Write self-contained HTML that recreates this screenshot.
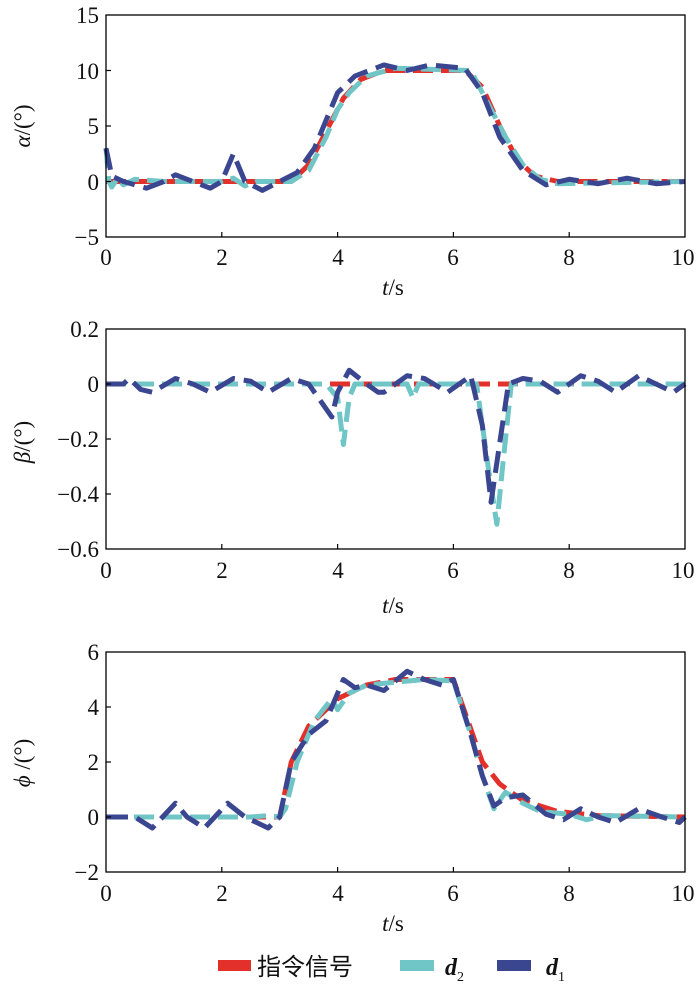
<!DOCTYPE html>
<html><head><meta charset="utf-8"><style>
html,body{margin:0;padding:0;background:#fff;}
svg{display:block;font-family:"Liberation Serif","Noto Serif CJK SC",serif;}
</style></head><body>
<svg width="700" height="991" viewBox="0 0 700 991" xmlns="http://www.w3.org/2000/svg">
<defs>
<style>
.ax{fill:none;stroke:#000;stroke-width:1.3}
.tk{stroke:#000;stroke-width:1.2}
.lb{font-size:23px;fill:#111}
.r{fill:none;stroke:#e3302b;stroke-width:5;stroke-dasharray:20 8;vector-effect:non-scaling-stroke;stroke-linejoin:round}
.c{fill:none;stroke:#70c6c6;stroke-width:5;stroke-dasharray:20 8;vector-effect:non-scaling-stroke;stroke-linejoin:round}
.n{fill:none;stroke:#3b4690;stroke-width:5;stroke-dasharray:22 9;vector-effect:non-scaling-stroke;stroke-linejoin:round}
</style>
</defs>

<!-- ===== Plot 1 ===== -->
<g transform="translate(106,181.5) scale(57.9,-11.1)">
<polyline class="r" points="0,0 3.2,0 3.5,1.5 3.8,4.5 4.1,7.5 4.4,9.2 4.8,10 6.2,10 6.5,8.5 6.8,5 7.1,2 7.4,0.5 7.8,0 10,0"/>
<polyline class="c" points="0,3 0.05,0 0.1,-0.5 0.2,0.3 0.3,-0.3 0.5,0.2 1,0 2,0 2.2,0.3 2.4,-0.4 2.6,0 3.2,0 3.5,1 3.8,4 4,6.5 4.2,8 4.5,9.5 5,10.2 6.3,10 6.6,7 6.9,4 7.2,1.5 7.5,0.2 7.8,-0.2 10,0"/>
<polyline class="n" points="0,3 0.1,0.5 0.3,0 0.7,-0.6 1,0 1.2,0.6 1.5,0 1.8,-0.6 2,0 2.2,2.5 2.4,0 2.7,-0.8 3,0 3.3,0.8 3.6,3 4,8 4.3,9.5 4.8,10.5 5.2,10 5.6,10.5 6.2,10.2 6.5,8 6.8,4 7.2,1 7.6,-0.3 8,0.2 8.5,-0.2 9,0.3 9.5,-0.2 10,0"/>
</g>
<rect class="ax" x="106" y="15" width="579" height="222"/>
<g class="tk">
<line x1="221.8" y1="237" x2="221.8" y2="232"/><line x1="337.6" y1="237" x2="337.6" y2="232"/><line x1="453.4" y1="237" x2="453.4" y2="232"/><line x1="569.2" y1="237" x2="569.2" y2="232"/>
<line x1="106" y1="70.5" x2="111" y2="70.5"/><line x1="106" y1="126" x2="111" y2="126"/><line x1="106" y1="181.5" x2="111" y2="181.5"/>
</g>
<g class="lb" text-anchor="end">
<text x="99" y="23">15</text><text x="99" y="79">10</text><text x="99" y="134">5</text><text x="99" y="190">0</text><text x="99" y="245">−5</text>
</g>
<g class="lb" text-anchor="middle">
<text x="106" y="265">0</text><text x="222" y="265">2</text><text x="338" y="265">4</text><text x="453" y="265">6</text><text x="569" y="265">8</text><text x="683" y="265">10</text>
<text x="393" y="295"><tspan font-style="italic">t</tspan>/s</text>
</g>
<text class="lb" transform="translate(30,126) rotate(-90)" text-anchor="middle"><tspan font-style="italic">α</tspan>/(°)</text>

<!-- ===== Plot 2 ===== -->
<g transform="translate(106,384) scale(57.9,-275)">
<polyline class="r" points="0,0 10,0"/>
<polyline class="c" points="0,0 3.8,0 4,-0.05 4.1,-0.22 4.2,-0.05 4.3,0 5.2,0 5.3,-0.05 5.4,0 6.4,0 6.6,-0.3 6.75,-0.51 6.85,-0.3 7,0 10,0"/>
<polyline class="n" points="0,0 0.3,0 0.4,0.02 0.6,-0.02 0.8,-0.03 1.2,0.02 1.5,0 1.8,-0.03 2.2,0.02 2.5,0.01 2.8,-0.03 3.2,0.02 3.5,0 3.9,-0.12 4,-0.03 4.2,0.05 4.5,0 4.7,-0.03 4.8,-0.03 5.2,0.03 5.5,0.02 5.9,-0.03 6.1,0 6.3,0.03 6.5,-0.15 6.65,-0.43 6.95,0 7.2,0.02 7.5,0.01 7.8,-0.03 8.2,0.03 8.5,0.01 8.8,-0.03 9.2,0.03 9.5,0 9.8,-0.03 10,0"/>
</g>
<rect class="ax" x="106" y="329" width="579" height="220"/>
<g class="tk">
<line x1="221.8" y1="549" x2="221.8" y2="544"/><line x1="337.6" y1="549" x2="337.6" y2="544"/><line x1="453.4" y1="549" x2="453.4" y2="544"/><line x1="569.2" y1="549" x2="569.2" y2="544"/>
<line x1="106" y1="384" x2="111" y2="384"/><line x1="106" y1="439" x2="111" y2="439"/><line x1="106" y1="494" x2="111" y2="494"/>
</g>
<g class="lb" text-anchor="end">
<text x="99" y="337">0.2</text><text x="99" y="392">0</text><text x="99" y="447">−0.2</text><text x="99" y="502">−0.4</text><text x="99" y="557">−0.6</text>
</g>
<g class="lb" text-anchor="middle">
<text x="106" y="578">0</text><text x="222" y="578">2</text><text x="338" y="578">4</text><text x="453" y="578">6</text><text x="569" y="578">8</text><text x="683" y="578">10</text>
<text x="393" y="613"><tspan font-style="italic">t</tspan>/s</text>
</g>
<text class="lb" transform="translate(30,442) rotate(-90)" text-anchor="middle"><tspan font-style="italic">β</tspan>/(°)</text>

<!-- ===== Plot 3 ===== -->
<g transform="translate(106,817) scale(57.9,-27.5)">
<polyline class="r" points="0,0 3,0 3.2,2 3.5,3.3 4,4.3 4.5,4.8 5,5 6,5 6.2,3.8 6.5,2 6.8,1.2 7.2,0.6 7.8,0.2 8.5,0.05 10,0"/>
<polyline class="c" points="0,0 2.5,0 2.8,0.05 3,0 3.1,0.3 3.3,2 3.6,3.5 3.9,4.3 4,3.9 4.2,4.5 4.5,4.8 5,4.9 5.5,5 6,4.95 6.3,3 6.5,1.5 6.7,0.3 6.9,0.9 7.2,0.5 7.5,0.2 8,0.1 8.3,-0.1 8.6,0.05 10,0"/>
<polyline class="n" points="0,0 0.5,0 0.8,-0.4 1.2,0.5 1.4,0 1.7,-0.4 2.1,0.5 2.4,0 2.8,-0.4 3,0 3.2,2 3.5,3 3.8,3.5 4.1,5 4.3,4.7 4.5,4.8 4.8,4.6 5.2,5.3 5.5,5 5.8,4.8 6,5 6.3,3 6.5,1.5 6.7,0.4 6.9,0.7 7.2,0.8 7.6,0.1 7.9,-0.1 8.2,0.3 8.5,0 8.8,-0.2 9.2,0.3 9.6,0 9.9,-0.2 10,0"/>
</g>
<rect class="ax" x="106" y="652" width="579" height="220"/>
<g class="tk">
<line x1="221.8" y1="872" x2="221.8" y2="867"/><line x1="337.6" y1="872" x2="337.6" y2="867"/><line x1="453.4" y1="872" x2="453.4" y2="867"/><line x1="569.2" y1="872" x2="569.2" y2="867"/>
<line x1="106" y1="707" x2="111" y2="707"/><line x1="106" y1="762" x2="111" y2="762"/><line x1="106" y1="817" x2="111" y2="817"/>
</g>
<g class="lb" text-anchor="end">
<text x="99" y="660">6</text><text x="99" y="715">4</text><text x="99" y="770">2</text><text x="99" y="825">0</text><text x="99" y="880">−2</text>
</g>
<g class="lb" text-anchor="middle">
<text x="106" y="901">0</text><text x="222" y="901">2</text><text x="338" y="901">4</text><text x="453" y="901">6</text><text x="569" y="901">8</text><text x="683" y="901">10</text>
<text x="393" y="931"><tspan font-style="italic">t</tspan>/s</text>
</g>
<text class="lb" transform="translate(30,763) rotate(-90)" text-anchor="middle"><tspan font-style="italic">ϕ</tspan> /(°)</text>

<!-- ===== Legend ===== -->
<rect x="218" y="960" width="33" height="11" fill="#e3302b"/>
<text x="257" y="975" font-size="24" font-family="'Noto Sans CJK SC','WenQuanYi Zen Hei',sans-serif" fill="#111">指令信号</text>
<rect x="400" y="960" width="34" height="11" fill="#70c6c6"/>
<text x="445" y="975" font-size="24" font-style="italic" font-weight="bold" fill="#111">d<tspan font-size="14" font-style="normal" font-weight="normal" dy="6">2</tspan></text>
<rect x="497" y="960" width="34" height="11" fill="#3b4690"/>
<text x="546" y="975" font-size="24" font-style="italic" font-weight="bold" fill="#111">d<tspan font-size="14" font-style="normal" font-weight="normal" dy="6">1</tspan></text>
</svg>
</body></html>
